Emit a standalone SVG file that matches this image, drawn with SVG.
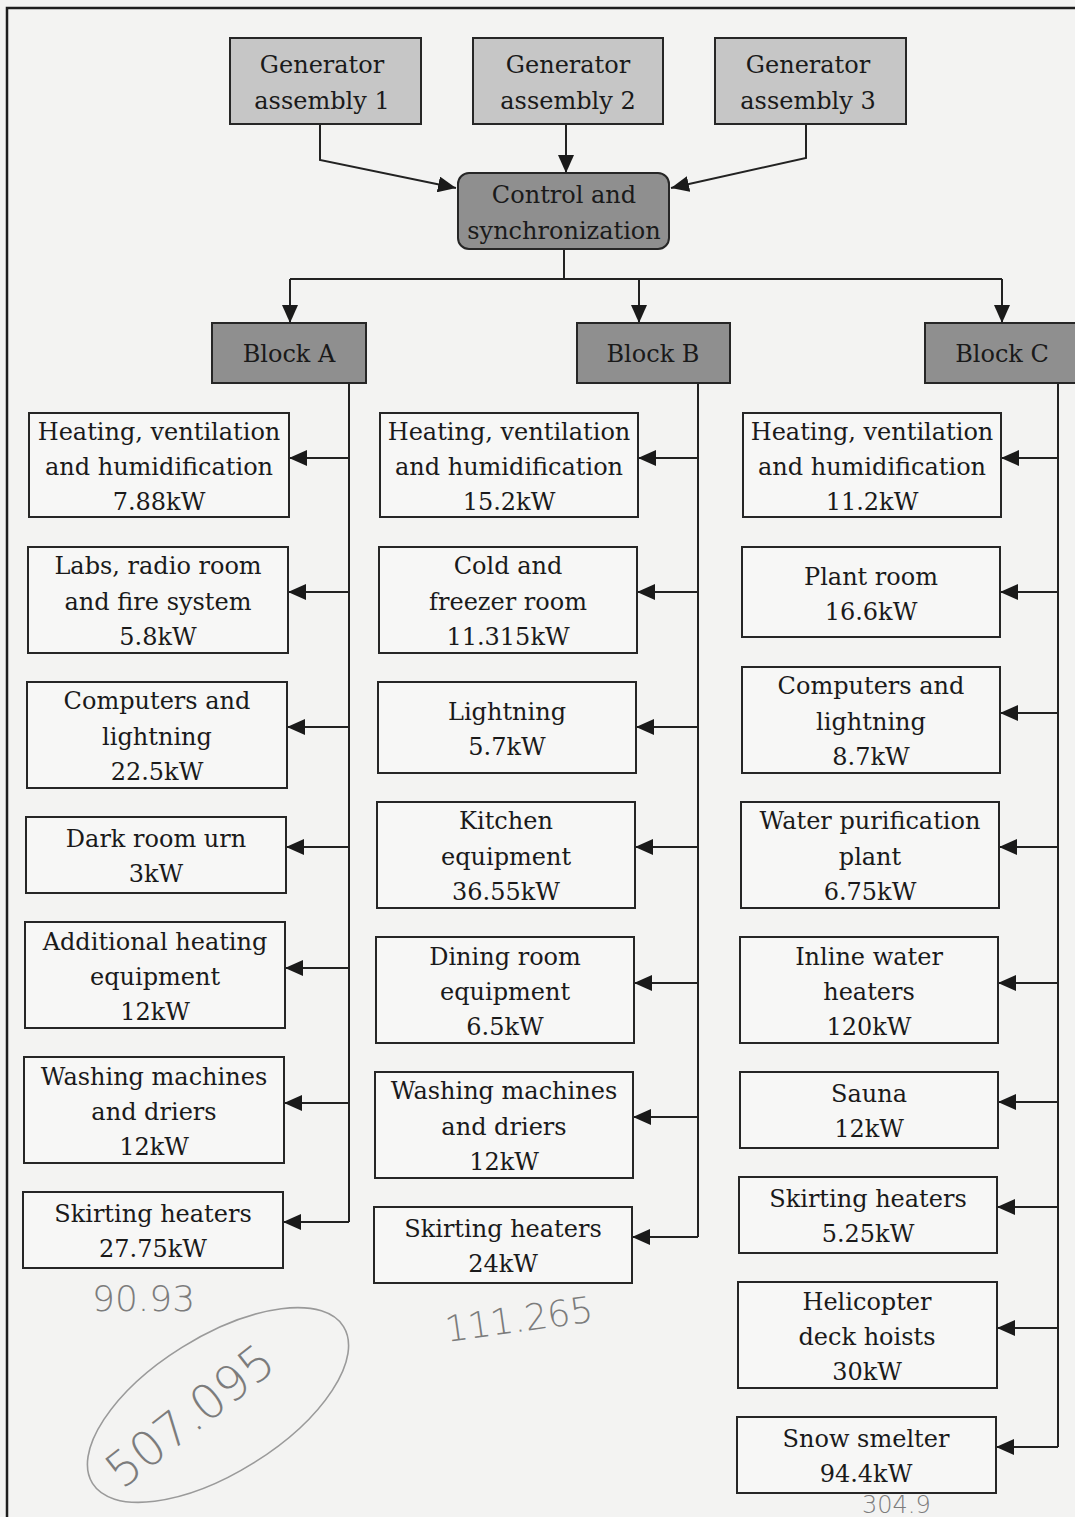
<svg xmlns="http://www.w3.org/2000/svg" width="1075" height="1517" viewBox="0 0 1075 1517">
  <style>
    .bg { fill: #f3f3f2; }
    .frame { fill: none; stroke: #1e1e1e; stroke-width: 2.5; }
    .gen { fill: #c6c6c6; stroke: #262626; stroke-width: 2; }
    .dark { fill: #8f8f8f; stroke: #262626; stroke-width: 2; }
    .load { fill: #f7f7f6; stroke: #262626; stroke-width: 2; }
    .wire { fill: none; stroke: #222; stroke-width: 2; }
    .lbl text { font-family: "DejaVu Serif", "Liberation Serif", serif; font-size: 24px; fill: #1a1a1a; text-anchor: middle; }
    .note { font-family: "DejaVu Sans", sans-serif; font-weight: 200; fill: #7c7c7c; font-size: 36px; }
    .big { font-size: 48px; }
    .small { font-size: 24px; }
    .ring { fill: none; stroke: #9a9a9a; stroke-width: 1.6; }
  </style>
  <defs>
    <marker id="arrow" viewBox="0 0 18 16" refX="18" refY="8" markerWidth="18" markerHeight="16" markerUnits="userSpaceOnUse" orient="auto">
      <path d="M0,0 L18,8 L0,16 Z" fill="#1a1a1a"/>
    </marker>
  </defs>

  <rect class="bg" x="0" y="0" width="1075" height="1517"/>
  <path class="frame" d="M7,1517 L7,8 L1075,8"/>

  <!-- wiring between generators, controller, blocks and loads -->
  <g id="connectors">
    <path class="wire" d="M320,124 L320,160 L456,188" marker-end="url(#arrow)"/>
    <path class="wire" d="M566,124 L566,173" marker-end="url(#arrow)"/>
    <path class="wire" d="M806,124 L806,158 L671,188" marker-end="url(#arrow)"/>
    <path class="wire" d="M564,249 L564,279"/>
    <path class="wire" d="M290,279 L1002,279"/>
    <path class="wire" d="M290,279 L290,323" marker-end="url(#arrow)"/>
    <path class="wire" d="M639,279 L639,323" marker-end="url(#arrow)"/>
    <path class="wire" d="M1002,279 L1002,323" marker-end="url(#arrow)"/>

    <!-- Block A bus -->
    <path class="wire" d="M349,383 L349,1222"/>
    <path class="wire" d="M349,458 L289,458" marker-end="url(#arrow)"/>
    <path class="wire" d="M349,592 L288,592" marker-end="url(#arrow)"/>
    <path class="wire" d="M349,727 L287,727" marker-end="url(#arrow)"/>
    <path class="wire" d="M349,847 L286,847" marker-end="url(#arrow)"/>
    <path class="wire" d="M349,968 L285,968" marker-end="url(#arrow)"/>
    <path class="wire" d="M349,1103 L284,1103" marker-end="url(#arrow)"/>
    <path class="wire" d="M349,1222 L283,1222" marker-end="url(#arrow)"/>

    <!-- Block B bus -->
    <path class="wire" d="M698,383 L698,1237"/>
    <path class="wire" d="M698,458 L638,458" marker-end="url(#arrow)"/>
    <path class="wire" d="M698,592 L637,592" marker-end="url(#arrow)"/>
    <path class="wire" d="M698,727 L636,727" marker-end="url(#arrow)"/>
    <path class="wire" d="M698,847 L635,847" marker-end="url(#arrow)"/>
    <path class="wire" d="M698,983 L634,983" marker-end="url(#arrow)"/>
    <path class="wire" d="M698,1117 L633,1117" marker-end="url(#arrow)"/>
    <path class="wire" d="M698,1237 L632,1237" marker-end="url(#arrow)"/>

    <!-- Block C bus -->
    <path class="wire" d="M1058,383 L1058,1447"/>
    <path class="wire" d="M1058,458 L1001,458" marker-end="url(#arrow)"/>
    <path class="wire" d="M1058,592 L1000,592" marker-end="url(#arrow)"/>
    <path class="wire" d="M1058,713 L1000,713" marker-end="url(#arrow)"/>
    <path class="wire" d="M1058,847 L999,847" marker-end="url(#arrow)"/>
    <path class="wire" d="M1058,983 L998,983" marker-end="url(#arrow)"/>
    <path class="wire" d="M1058,1102 L998,1102" marker-end="url(#arrow)"/>
    <path class="wire" d="M1058,1207 L997,1207" marker-end="url(#arrow)"/>
    <path class="wire" d="M1058,1328 L997,1328" marker-end="url(#arrow)"/>
    <path class="wire" d="M1058,1447 L996,1447" marker-end="url(#arrow)"/>
  </g>

  <g class="lbl">
  <!-- generators -->
  <g id="gen1"><rect class="gen" x="230" y="38" width="191" height="86"/><text x="322" y="73">Generator</text><text x="322" y="109">assembly 1</text></g>
  <g id="gen2"><rect class="gen" x="473" y="38" width="190" height="86"/><text x="568" y="73">Generator</text><text x="568" y="109">assembly 2</text></g>
  <g id="gen3"><rect class="gen" x="715" y="38" width="191" height="86"/><text x="808" y="73">Generator</text><text x="808" y="109">assembly 3</text></g>

  <g id="control"><rect class="dark" x="458" y="173" width="211" height="76" rx="11"/><text x="564" y="203">Control and</text><text x="564" y="239">synchronization</text></g>

  <g id="blockA"><rect class="dark" x="212" y="323" width="154" height="60"/><text x="289" y="362">Block A</text></g>
  <g id="blockB"><rect class="dark" x="577" y="323" width="153" height="60"/><text x="653" y="362">Block B</text></g>
  <g id="blockC"><rect class="dark" x="925" y="323" width="160" height="60"/><text x="1002" y="362">Block C</text></g>

  <!-- Block A loads -->
  <g id="a1"><rect class="load" x="29" y="413" width="260" height="104"/><text x="159" y="440">Heating, ventilation</text><text x="159" y="475">and humidification</text><text x="159" y="510">7.88kW</text></g>
  <g id="a2"><rect class="load" x="28" y="547" width="260" height="106"/><text x="158" y="574">Labs, radio room</text><text x="158" y="610">and fire system</text><text x="158" y="645">5.8kW</text></g>
  <g id="a3"><rect class="load" x="27" y="682" width="260" height="106"/><text x="157" y="709">Computers and</text><text x="157" y="745">lightning</text><text x="157" y="780">22.5kW</text></g>
  <g id="a4"><rect class="load" x="26" y="817" width="260" height="76"/><text x="156" y="847">Dark room urn</text><text x="156" y="882">3kW</text></g>
  <g id="a5"><rect class="load" x="25" y="922" width="260" height="106"/><text x="155" y="950">Additional heating</text><text x="155" y="985">equipment</text><text x="155" y="1020">12kW</text></g>
  <g id="a6"><rect class="load" x="24" y="1057" width="260" height="106"/><text x="154" y="1085">Washing machines</text><text x="154" y="1120">and driers</text><text x="154" y="1155">12kW</text></g>
  <g id="a7"><rect class="load" x="23" y="1192" width="260" height="76"/><text x="153" y="1222">Skirting heaters</text><text x="153" y="1257">27.75kW</text></g>

  <!-- Block B loads -->
  <g id="b1"><rect class="load" x="380" y="413" width="258" height="104"/><text x="509" y="440">Heating, ventilation</text><text x="509" y="475">and humidification</text><text x="509" y="510">15.2kW</text></g>
  <g id="b2"><rect class="load" x="379" y="547" width="258" height="106"/><text x="508" y="574">Cold and</text><text x="508" y="610">freezer room</text><text x="508" y="645">11.315kW</text></g>
  <g id="b3"><rect class="load" x="378" y="682" width="258" height="91"/><text x="507" y="720">Lightning</text><text x="507" y="755">5.7kW</text></g>
  <g id="b4"><rect class="load" x="377" y="802" width="258" height="106"/><text x="506" y="829">Kitchen</text><text x="506" y="865">equipment</text><text x="506" y="900">36.55kW</text></g>
  <g id="b5"><rect class="load" x="376" y="937" width="258" height="106"/><text x="505" y="965">Dining room</text><text x="505" y="1000">equipment</text><text x="505" y="1035">6.5kW</text></g>
  <g id="b6"><rect class="load" x="375" y="1072" width="258" height="106"/><text x="504" y="1099">Washing machines</text><text x="504" y="1135">and driers</text><text x="504" y="1170">12kW</text></g>
  <g id="b7"><rect class="load" x="374" y="1207" width="258" height="76"/><text x="503" y="1237">Skirting heaters</text><text x="503" y="1272">24kW</text></g>

  <!-- Block C loads -->
  <g id="c1"><rect class="load" x="743" y="413" width="258" height="104"/><text x="872" y="440">Heating, ventilation</text><text x="872" y="475">and humidification</text><text x="872" y="510">11.2kW</text></g>
  <g id="c2"><rect class="load" x="742" y="547" width="258" height="90"/><text x="871" y="585">Plant room</text><text x="871" y="620">16.6kW</text></g>
  <g id="c3"><rect class="load" x="742" y="667" width="258" height="106"/><text x="871" y="694">Computers and</text><text x="871" y="730">lightning</text><text x="871" y="765">8.7kW</text></g>
  <g id="c4"><rect class="load" x="741" y="802" width="258" height="106"/><text x="870" y="829">Water purification</text><text x="870" y="865">plant</text><text x="870" y="900">6.75kW</text></g>
  <g id="c5"><rect class="load" x="740" y="937" width="258" height="106"/><text x="869" y="965">Inline water</text><text x="869" y="1000">heaters</text><text x="869" y="1035">120kW</text></g>
  <g id="c6"><rect class="load" x="740" y="1072" width="258" height="76"/><text x="869" y="1102">Sauna</text><text x="869" y="1137">12kW</text></g>
  <g id="c7"><rect class="load" x="739" y="1177" width="258" height="76"/><text x="868" y="1207">Skirting heaters</text><text x="868" y="1242">5.25kW</text></g>
  <g id="c8"><rect class="load" x="738" y="1282" width="259" height="106"/><text x="867" y="1310">Helicopter</text><text x="867" y="1345">deck hoists</text><text x="867" y="1380">30kW</text></g>
  <g id="c9"><rect class="load" x="737" y="1417" width="259" height="76"/><text x="866" y="1447">Snow smelter</text><text x="866" y="1482">94.4kW</text></g>
  </g>

  <!-- pencilled subtotals -->
  <g id="notes">
    <text class="note" x="92" y="1311">90.93</text>
    <text class="note" x="447" y="1342" transform="rotate(-8 447 1342)">111.265</text>
    <ellipse class="ring" cx="218" cy="1405" rx="148" ry="68" transform="rotate(-32 218 1405)"/>
    <text class="note big" x="122" y="1490" transform="rotate(-38 122 1490)">507.095</text>
    <text class="note small" x="862" y="1513">304.9</text>
  </g>
</svg>
